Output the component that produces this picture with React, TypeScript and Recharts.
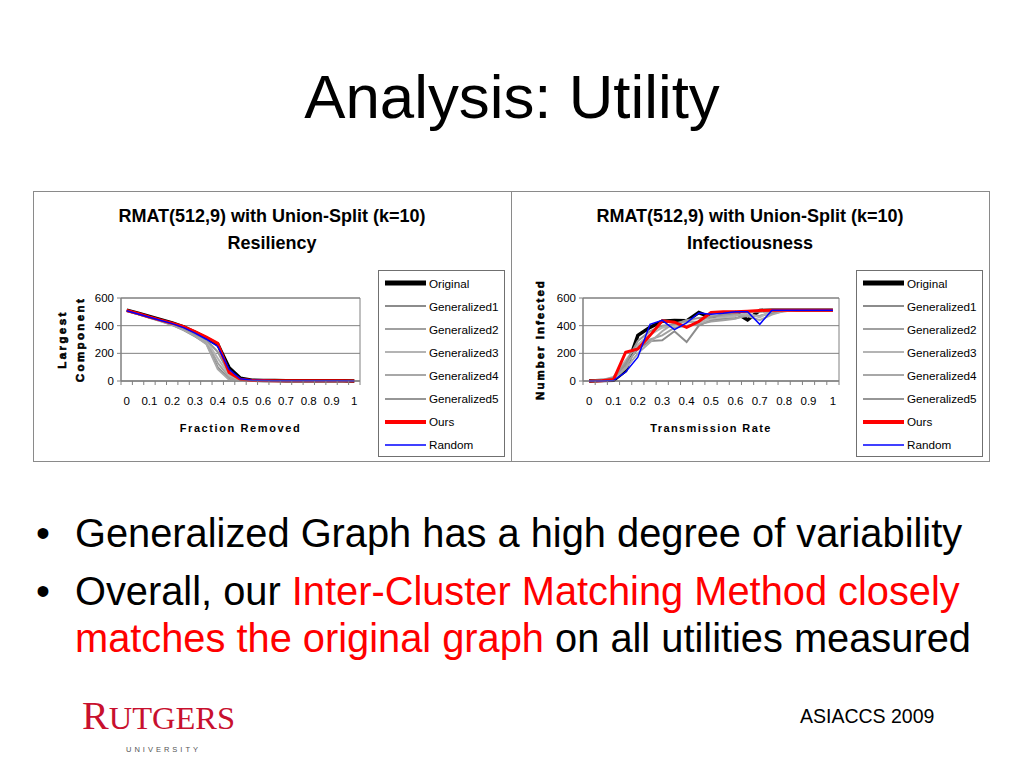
import React from 'react';
import { LineChart, Line, XAxis, YAxis, CartesianGrid, ReferenceArea, Legend } from 'recharts';

const SANS = '"Liberation Sans", Arial, sans-serif';
const SERIF = '"Liberation Serif", "Times New Roman", serif';

// Categories (x values) shared by both charts
const X_VALUES = [0, 0.05, 0.1, 0.15, 0.2, 0.25, 0.3, 0.35, 0.4, 0.45, 0.5, 0.55, 0.6, 0.65, 0.7, 0.75, 0.8, 0.85, 0.9, 0.95, 1];
const X_TICK_LABELS = [0, 0.1, 0.2, 0.3, 0.4, 0.5, 0.6, 0.7, 0.8, 0.9, 1];
const Y_TICKS = [0, 200, 400, 600];

const SERIES_KEYS = ['original', 'g1', 'g2', 'g3', 'g4', 'g5', 'ours', 'random'];
const SERIES_NAMES = ['Original', 'Generalized1', 'Generalized2', 'Generalized3', 'Generalized4', 'Generalized5', 'Ours', 'Random'];
const SERIES_COLORS = ['#000000', '#8c8c8c', '#a0a0a0', '#b4b4b4', '#a8a8a8', '#969696', '#ff0000', '#0000ff'];
const SERIES_WIDTHS = [3.5, 2, 2, 2, 2, 2, 3, 1.5];
const LEGEND_WIDTHS = [5, 2, 2, 2, 2, 2, 4, 1.5];

// Resiliency (Largest Component vs Fraction Removed)
const RES_ORIGINAL = [512, 490, 466, 443, 420, 392, 352, 310, 265, 95, 20, 6, 4, 3, 2, 2, 2, 1, 1, 1, 0];
const RES_G1 = [505, 483, 457, 432, 404, 368, 322, 272, 100, 14, 2, 1, 0, 0, 0, 0, 0, 0, 0, 0, 0];
const RES_G2 = [508, 486, 460, 436, 410, 374, 330, 282, 130, 30, 4, 1, 0, 0, 0, 0, 0, 0, 0, 0, 0];
const RES_G3 = [510, 487, 462, 438, 412, 378, 336, 292, 165, 42, 6, 1, 0, 0, 0, 0, 0, 0, 0, 0, 0];
const RES_G4 = [506, 484, 458, 433, 406, 370, 326, 266, 85, 8, 1, 0, 0, 0, 0, 0, 0, 0, 0, 0, 0];
const RES_G5 = [509, 486, 461, 437, 413, 381, 340, 298, 210, 55, 6, 1, 0, 0, 0, 0, 0, 0, 0, 0, 0];
const RES_OURS = [510, 488, 463, 440, 418, 393, 357, 318, 272, 62, 12, 4, 3, 2, 2, 1, 1, 1, 1, 1, 0];
const RES_RANDOM = [508, 485, 461, 438, 415, 386, 346, 302, 250, 85, 16, 5, 3, 2, 2, 1, 1, 1, 1, 1, 0];

// Infectiousness (Number Infected vs Transmission Rate)
const INF_ORIGINAL = [0, 3, 6, 75, 330, 388, 432, 438, 435, 495, 460, 470, 495, 442, 510, 512, 512, 512, 512, 512, 512];
const INF_G1 = [0, 2, 15, 120, 230, 290, 295, 360, 282, 400, 440, 450, 455, 470, 470, 490, 505, 512, 512, 512, 512];
const INF_G2 = [0, 3, 20, 100, 250, 300, 330, 385, 400, 410, 430, 440, 450, 480, 470, 500, 512, 512, 512, 512, 512];
const INF_G3 = [0, 5, 30, 150, 265, 335, 385, 400, 440, 420, 450, 460, 470, 490, 460, 510, 512, 512, 512, 512, 512];
const INF_G4 = [0, 2, 10, 90, 200, 280, 360, 420, 425, 430, 470, 470, 480, 470, 440, 480, 505, 512, 512, 512, 512];
const INF_G5 = [0, 4, 25, 130, 290, 360, 400, 410, 440, 455, 460, 480, 490, 500, 500, 505, 512, 512, 512, 512, 512];
const INF_OURS = [0, 2, 10, 208, 232, 330, 435, 425, 388, 430, 495, 500, 500, 505, 510, 512, 512, 512, 512, 512, 512];
const INF_RANDOM = [0, 0, 3, 65, 172, 410, 438, 372, 420, 492, 482, 490, 500, 500, 410, 512, 512, 512, 512, 512, 512];

type Row = { [k: string]: number };

function buildRows(series: number[][]): Row[] {
  return X_VALUES.map((x, i) => {
    const r: Row = { x };
    SERIES_KEYS.forEach((k, j) => {
      r[k] = series[j][i];
    });
    return r;
  });
}

const RES_ROWS = buildRows([RES_ORIGINAL, RES_G1, RES_G2, RES_G3, RES_G4, RES_G5, RES_OURS, RES_RANDOM]);
const INF_ROWS = buildRows([INF_ORIGINAL, INF_G1, INF_G2, INF_G3, INF_G4, INF_G5, INF_OURS, INF_RANDOM]);

// category boundaries (Excel-style tick marks between categories)
const HALF_STEP = (X_VALUES[1] - X_VALUES[0]) / 2;
const X_BOUNDS = [...X_VALUES.map((v) => v - HALF_STEP), X_VALUES[X_VALUES.length - 1] + HALF_STEP];
const X_DOMAIN: [number, number] = [X_BOUNDS[0], X_BOUNDS[X_BOUNDS.length - 1]];
const X_ALL_TICKS = [...X_BOUNDS, ...X_TICK_LABELS].sort((a, b) => a - b);

const AXIS_GRAY = '#808080';

function XTick(props: any) {
  const { x, y, payload } = props;
  const v = payload.value as number;
  const isLabel = X_TICK_LABELS.some((t) => Math.abs(t - v) < 1e-6);
  if (isLabel) {
    return (
      <text x={x} y={y + 24} textAnchor="middle" fontSize={11.5} fontFamily={SANS} fill="#000">
        {String(Math.round(v * 10) / 10)}
      </text>
    );
  }
  return <line x1={x} y1={y} x2={x} y2={y + 4} stroke={AXIS_GRAY} strokeWidth={1} />;
}

function LegendBox() {
  return (
    <div
      style={{
        width: 127,
        height: 187,
        boxSizing: 'border-box',
        border: '1px solid #707070',
        background: '#fff',
        paddingTop: 0.5,
        fontFamily: SANS,
      }}
    >
      {SERIES_NAMES.map((name, i) => (
        <div key={name} style={{ height: 23.1, display: 'flex', alignItems: 'center' }}>
          <svg width={50} height={10} style={{ display: 'block', flex: 'none' }}>
            <line x1={6} y1={5} x2={47} y2={5} stroke={SERIES_COLORS[i]} strokeWidth={LEGEND_WIDTHS[i]} />
          </svg>
          <span style={{ fontSize: 11.7, color: '#000', whiteSpace: 'nowrap' }}>{name}</span>
        </div>
      ))}
    </div>
  );
}

type ChartProps = {
  left: number;
  rows: Row[];
  marginLeft: number;
  marginRight: number;
  title2: string;
  xTitle: string;
  xTitleLs: number;
  yTitleLines: { text: string; x: number; ls: number }[];
};

function UtilityChart({ left, rows, marginLeft, marginRight, title2, xTitle, xTitleLs, yTitleLines }: ChartProps) {
  const W = 478;
  const H = 270;
  const yAxisW = 30;
  const plotLeft = marginLeft + yAxisW;
  const plotWidth = W - plotLeft - marginRight;
  const plotCenterY = 107 + 83 / 2;
  return (
    <div style={{ position: 'absolute', left, top: 191, width: W, height: H }}>
      <LineChart
        width={W}
        height={H}
        data={rows}
        margin={{ top: 107, right: marginRight, bottom: 50, left: marginLeft }}
      >
        <CartesianGrid horizontal vertical={false} stroke={AXIS_GRAY} />
        <ReferenceArea
          x1={X_DOMAIN[0]}
          x2={X_DOMAIN[1]}
          y1={0}
          y2={600}
          fill="none"
          fillOpacity={0}
          stroke={AXIS_GRAY}
          strokeOpacity={1}
          ifOverflow="visible"
        />
        <XAxis
          dataKey="x"
          type="number"
          domain={X_DOMAIN}
          ticks={X_ALL_TICKS}
          interval={0}
          tickLine={false}
          tickSize={0}
          tickMargin={0}
          height={30}
          axisLine={{ stroke: AXIS_GRAY }}
          tick={(p: any) => <XTick {...p} />}
          allowDataOverflow
        />
        <YAxis
          type="number"
          domain={[0, 600]}
          ticks={Y_TICKS}
          interval={0}
          width={yAxisW}
          tickSize={4}
          tickMargin={3}
          tickLine={{ stroke: AXIS_GRAY }}
          axisLine={{ stroke: AXIS_GRAY }}
          tick={{ fontSize: 11.5, fill: '#000', fontFamily: SANS }}
        />
        {SERIES_KEYS.map((k, i) => (
          <Line
            key={k}
            type="linear"
            dataKey={k}
            name={SERIES_NAMES[i]}
            stroke={SERIES_COLORS[i]}
            strokeWidth={SERIES_WIDTHS[i]}
            dot={false}
            activeDot={false}
            isAnimationActive={false}
          />
        ))}
        <Legend
          layout="vertical"
          align="center"
          verticalAlign="middle"
          wrapperStyle={{ position: 'absolute', left: 345, top: 79, width: 127, height: 187, margin: 0, padding: 0 }}
          content={() => <LegendBox />}
        />
      </LineChart>
      <svg
        width={W}
        height={H}
        style={{ position: 'absolute', left: 0, top: 0, pointerEvents: 'none' }}
        fontFamily={SANS}
      >
        <text x={W / 2} y={30.5} textAnchor="middle" fontSize={18} fontWeight="bold" fill="#000">
          RMAT(512,9) with Union-Split (k=10)
        </text>
        <text x={W / 2} y={57.5} textAnchor="middle" fontSize={18} fontWeight="bold" fill="#000">
          {title2}
        </text>
        <text
          x={plotLeft + plotWidth / 2}
          y={240.7}
          textAnchor="middle"
          fontSize={11}
          fontWeight="bold"
          letterSpacing={xTitleLs}
          fill="#000"
        >
          {xTitle}
        </text>
        {yTitleLines.map((l) => (
          <text
            key={l.text}
            x={l.x}
            y={plotCenterY}
            transform={`rotate(-90, ${l.x}, ${plotCenterY})`}
            textAnchor="middle"
            fontSize={11.5}
            fontWeight="bold"
            letterSpacing={l.ls}
            fill="#000"
            stroke="#000"
            strokeWidth={0.6}
          >
            {l.text}
          </text>
        ))}
      </svg>
    </div>
  );
}

export default function App() {
  return (
    <div
      style={{
        position: 'absolute',
        left: 0,
        top: 0,
        width: 1024,
        height: 768,
        background: '#fff',
        overflow: 'hidden',
        fontFamily: SANS,
      }}
    >
      <svg width={1024} height={768} style={{ position: 'absolute', left: 0, top: 0 }} fontFamily={SANS}>
        <text x={512} y={118} textAnchor="middle" fontSize={61.8} fill="#000">
          Analysis: Utility
        </text>
        <rect x={33.5} y={191.5} width={478} height={270} fill="none" stroke="#8a8a8a" />
        <rect x={511.5} y={191.5} width={478} height={270} fill="none" stroke="#8a8a8a" />

        <text x={36} y={546.7} fontSize={39.8} fill="#000">•</text>
        <text x={75} y={546.7} fontSize={39.8} fill="#000">
          Generalized Graph has a high degree of variability
        </text>
        <text x={36} y={605} fontSize={39.8} fill="#000">•</text>
        <text x={75} y={605} fontSize={39.8} fill="#000" style={{ whiteSpace: 'pre' }}>
          <tspan>Overall, our </tspan>
          <tspan fill="#ff0000">Inter-Cluster Matching Method closely</tspan>
        </text>
        <text x={75} y={651.7} fontSize={39.8} fill="#000" style={{ whiteSpace: 'pre' }}>
          <tspan fill="#ff0000">matches the original graph</tspan>
          <tspan> on all utilities measured</tspan>
        </text>

        <text x={800} y={723.3} fontSize={19.5} fill="#000">
          ASIACCS 2009
        </text>

        <text x={82} y={729} fontFamily={SERIF} fill="#c8102e">
          <tspan fontSize={40}>R</tspan>
          <tspan fontSize={32.5}>UTGERS</tspan>
        </text>
        <text x={126} y={752} fontSize={7.5} letterSpacing={3} fill="#555">
          UNIVERSITY
        </text>
      </svg>

      <UtilityChart
        left={33}
        rows={RES_ROWS}
        marginLeft={58}
        marginRight={151}
        title2="Resiliency"
        xTitle="Fraction Removed"
        xTitleLs={1.6}
        yTitleLines={[
          { text: 'Largest', x: 33, ls: 2.4 },
          { text: 'Component', x: 50.5, ls: 2.4 },
        ]}
      />
      <UtilityChart
        left={511}
        rows={INF_ROWS}
        marginLeft={42}
        marginRight={150}
        title2="Infectiousness"
        xTitle="Transmission Rate"
        xTitleLs={1.4}
        yTitleLines={[{ text: 'Number Infected', x: 32.5, ls: 2 }]}
      />
    </div>
  );
}
